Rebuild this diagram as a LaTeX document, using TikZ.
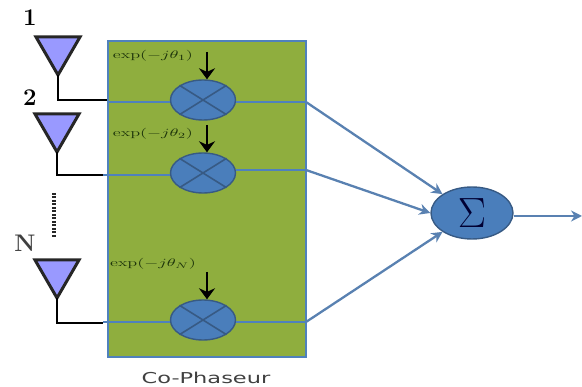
\documentclass[tikz,border=0pt]{standalone}
\usepackage{fontspec}
\setsansfont{DejaVu Sans}
\usetikzlibrary{arrows.meta,shapes.geometric}
\definecolor{boxgreen}{HTML}{8FAE3E}
\definecolor{wireblue}{HTML}{4F81BD}
\definecolor{mixblue}{HTML}{4A7EBB}
\definecolor{antblue}{HTML}{9999FF}
\definecolor{phasegreen}{HTML}{1C330A}
\newcommand{\phasetext}[1]{\scalebox{1.65}[1]{$\exp(-j\theta_{#1})$}}
\tikzset{
    mixer/.style={ellipse, draw=wireblue!70!black, line width=1.4pt, fill=mixblue, minimum width=65pt, minimum height=40pt, inner sep=0pt},
    wire/.style={draw=wireblue, line width=1.6pt},
    crossline/.style={draw=wireblue!70!black, line width=1.6pt},
    feed/.style={draw=black, line width=2.8pt},
    sumline/.style={draw=wireblue!80!gray, line width=2.3pt, -{Stealth[length=11pt,width=11pt]}},
    phase/.style={font=\fontsize{11}{12}\selectfont, text=phasegreen, inner sep=0pt},
    antenna/.style={draw=black!85, line width=3pt, fill=antblue, line join=miter},
    number/.style={font=\bfseries\fontsize{24}{25}\selectfont, inner sep=0pt},
    control/.style={line width=2.4pt, -{Stealth[length=11pt,width=16pt]}}
}
\begin{document}
\begin{tikzpicture}[x=1pt,y=-1pt]
        \useasboundingbox (0,0) rectangle (582,387);
        \node [draw=wireblue, line width=1.9pt, fill=boxgreen, minimum width=198pt, minimum height=316pt, inner sep=0pt] (box) at (207,199) {};

        \node [mixer] (m1) at (203,100) {};
        \node [mixer] (m2) at (203,173) {};
        \node [mixer] (m3) at (203,320) {};
        \node [ellipse, draw=wireblue!70!black, line width=1.4pt, fill=mixblue, minimum width=82pt, minimum height=52pt, inner sep=0pt, text=black!80!blue, font=\fontsize{27}{28}\selectfont] (sum) at (472,213) {\scalebox{1.7}{$\Sigma$}};

        \coordinate (a1) at (58,100);
        \coordinate (a2) at (57,175);
        \coordinate (a3) at (57,323);
        \coordinate (t1) at (107,100);
        \coordinate (t2) at (103,175);
        \coordinate (t3) at (103,323);
        \coordinate (in1) at (108,102);
        \coordinate (in2) at (103,175);
        \coordinate (in3) at (103,322);
        \coordinate (out1) at (306,102);
        \coordinate (out2) at (306,170);
        \coordinate (out3) at (306,322);
        \coordinate (end) at (582,216);

        % antennas
        \draw [antenna] (36,37) -- (80,37) -- (58,75) -- cycle;
        \draw [antenna] (35,114) -- (79,114) -- (57,152) -- cycle;
        \draw [antenna] (35,260) -- (79,260) -- (57,298) -- cycle;
        \draw [feed] (58,75) -- (a1) -- (t1);
        \draw [feed] (57,152) -- (a2) -- (t2);
        \draw [feed] (57,298) -- (a3) -- (t3);
        \draw [line width=4pt, dash pattern=on 2pt off 1.5pt, draw=black!85] (54,193) -- (54,238);

        % wires through the box
        \draw [wire] (in1) -- (in1 -| m1.west);
        \draw [wire] (out1 -| m1.east) -- (out1);
        \draw [wire] (in2) -- (in2 -| m2.west);
        \draw [wire] (out2 -| m2.east) -- (out2);
        \draw [wire] (in3) -- (in3 -| m3.west);
        \draw [wire] (out3 -| m3.east) -- (out3);

        % crosses
        \draw [crossline] (m1.north west) -- (m1.south east);
        \draw [crossline] (m1.south west) -- (m1.north east);
        \draw [crossline] (m2.north west) -- (m2.south east);
        \draw [crossline] (m2.south west) -- (m2.north east);
        \draw [crossline] (m3.north west) -- (m3.south east);
        \draw [crossline] (m3.south west) -- (m3.north east);

        % phase inputs
        \node [phase] (p1) at (153,56) {\phasetext{1}};
        \node [phase] (p2) at (153,134) {\phasetext{2}};
        \node [phase] (p3) at (153,264) {\phasetext{N}};
        \coordinate (c1) at (207,52);
        \coordinate (c2) at (207,125);
        \coordinate (c3) at (207,272);
        \draw [control] (c1) -- (m1.north -| c1);
        \draw [control] (c2) -- (m2.north -| c2);
        \draw [control] (c3) -- (m3.north -| c3);

        % to the sum
        \draw [sumline] (out1) -- (sum.north west);
        \draw [sumline] (out2) -- (sum.west);
        \draw [sumline] (out3) -- (sum.south west);
        \draw [sumline] (sum.east |- end) -- (end);

        \node [number] (n1) at (30,18) {1};
        \node [number] (n2) at (30,98) {2};
        \node [number, text=black!75] (nn) at (25,243) {N};
        \node [font=\sffamily\fontsize{15}{16}\selectfont, text=black!75, inner sep=0pt] (label) at (206,378) {\scalebox{1.5}[1]{Co-Phaseur}};
\end{tikzpicture}
\end{document}
